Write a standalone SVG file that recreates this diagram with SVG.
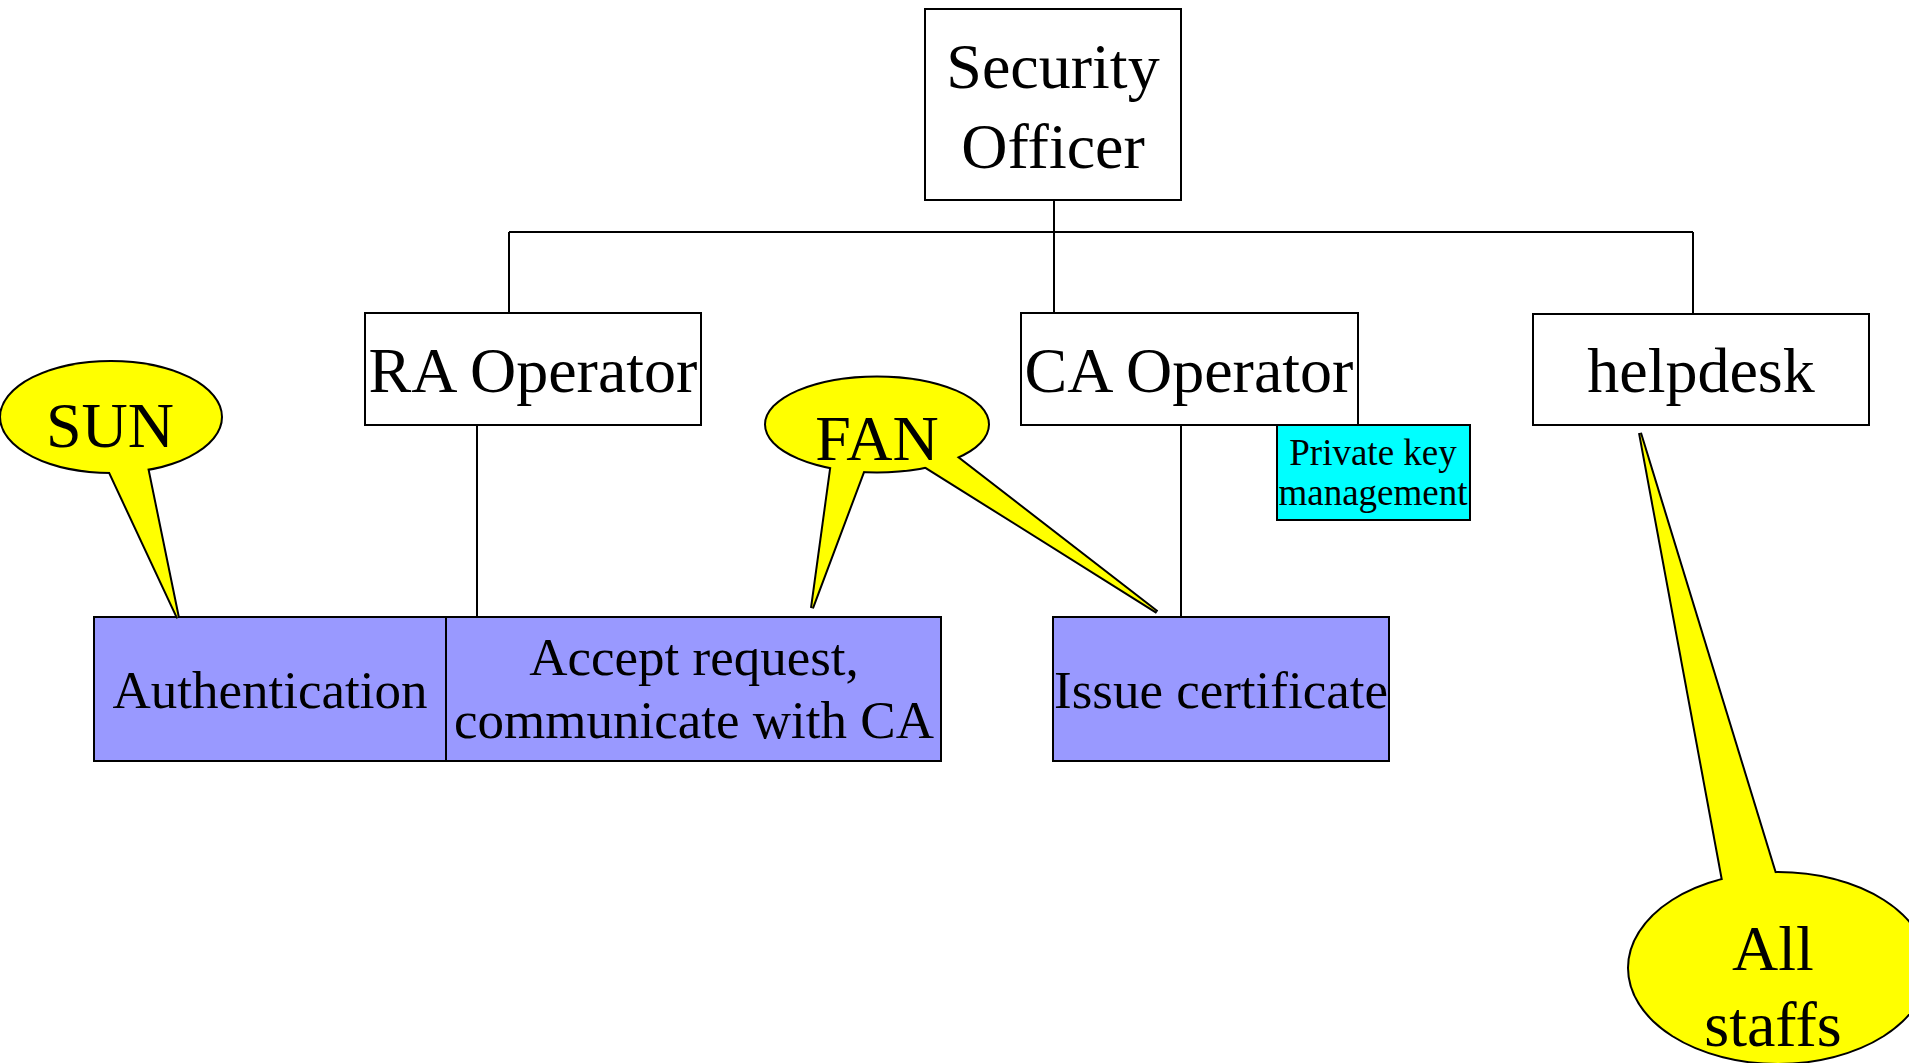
<svg xmlns="http://www.w3.org/2000/svg" width="1909" height="1063" viewBox="0 0 1909 1063">
<style>
.box{fill:#ffffff;stroke:#000000;stroke-width:2}
.task{fill:#9999ff;stroke:#000000;stroke-width:2}
.key{fill:#00ffff;stroke:#000000;stroke-width:2}
.conn{stroke:#000000;stroke-width:2;fill:none}
.co{fill:#ffff00;stroke:#000000;stroke-width:4;stroke-linejoin:miter}
.cf{fill:#ffff00;stroke:none}
.t{font-family:"Liberation Serif","Times New Roman",serif;fill:#000000;text-anchor:middle}
.big{font-size:64px}
.mid{font-size:53px}
.small{font-size:37px}
</style>
<rect width="1909" height="1063" fill="#ffffff"/>
<g id="connectors">
<line class="conn" x1="1054" y1="200" x2="1054" y2="313"/>
<line class="conn" x1="509" y1="232" x2="1693" y2="232"/>
<line class="conn" x1="509" y1="232" x2="509" y2="313"/>
<line class="conn" x1="1693" y1="232" x2="1693" y2="314"/>
<line class="conn" x1="477" y1="425" x2="477" y2="617"/>
<line class="conn" x1="1181" y1="425" x2="1181" y2="617"/>
</g>
<g id="security-officer">
<rect class="box" x="925" y="9" width="256" height="191"/>
<text class="t big" x="1053" y="88">Security</text>
<text class="t big" x="1053" y="168">Officer</text>
</g>
<g id="ra-operator">
<rect class="box" x="365" y="313" width="336" height="112"/>
<text class="t big" x="533" y="392">RA Operator</text>
</g>
<g id="ca-operator">
<rect class="box" x="1021" y="313" width="337" height="112"/>
<text class="t big" x="1189" y="392">CA Operator</text>
</g>
<g id="helpdesk">
<rect class="box" x="1533" y="314" width="336" height="111"/>
<text class="t big" x="1701" y="392">helpdesk</text>
</g>
<g id="private-key">
<rect class="key" x="1277" y="425" width="193" height="95"/>
<text class="t small" x="1373" y="465">Private key</text>
<text class="t small" x="1373" y="505">management</text>
</g>
<g id="authentication">
<rect class="task" x="94" y="617" width="352" height="144"/>
<text class="t mid" x="270" y="708">Authentication</text>
</g>
<g id="accept-request">
<rect class="task" x="446" y="617" width="495" height="144"/>
<text class="t mid" x="694" y="675">Accept request,</text>
<text class="t mid" x="694" y="738">communicate with CA</text>
</g>
<g id="issue-certificate">
<rect class="task" x="1053" y="617" width="336" height="144"/>
<text class="t mid" x="1221" y="708">Issue certificate</text>
</g>
<g id="callout-sun">
<ellipse class="co" cx="111" cy="417" rx="110" ry="55"/>
<polygon class="co" points="107,466 146,462 178,618"/>
<ellipse class="cf" cx="111" cy="417" rx="110" ry="55"/>
<polygon class="cf" points="107,466 146,462 178,618"/>
<text class="t big" x="110" y="447">SUN</text>
</g>
<g id="callout-fan">
<ellipse class="co" cx="877" cy="424.5" rx="111" ry="47"/>
<polygon class="co" points="832,462 866,464 812,608"/>
<polygon class="co" points="918,462 950,452 1157,612"/>
<ellipse class="cf" cx="877" cy="424.5" rx="111" ry="47"/>
<polygon class="cf" points="832,462 866,464 812,608"/>
<polygon class="cf" points="918,462 950,452 1157,612"/>
<text class="t big" x="877" y="460">FAN</text>
</g>
<g id="callout-all-staffs">
<ellipse class="co" cx="1778" cy="968" rx="149" ry="95"/>
<polygon class="co" points="1640,433 1777,880 1724,886"/>
<ellipse class="cf" cx="1778" cy="968" rx="149" ry="95"/>
<polygon class="cf" points="1640,433 1777,880 1724,886"/>
<text class="t big" x="1773" y="970">All</text>
<text class="t big" x="1773" y="1046">staffs</text>
</g>
</svg>
